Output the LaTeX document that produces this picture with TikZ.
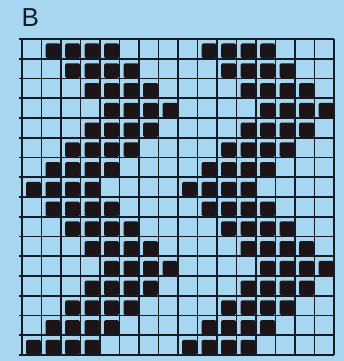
\documentclass[tikz,border=0pt]{standalone}
\usepackage{fontspec}
\setmainfont{Liberation Sans}
\definecolor{bgblue}{RGB}{166,214,240}
\definecolor{ink}{RGB}{20,26,38}
\definecolor{cellink}{RGB}{28,20,22}
\tikzset{
  gridline/.style={draw=ink, line width=1.6pt},
  cellfill/.style={fill=cellink, rounded corners=1.5pt},
}
\begin{document}
\begin{tikzpicture}[x=1pt,y=-1pt]
\fill[bgblue] (0,0) rectangle (344,361);
\useasboundingbox (0,0) rectangle (344,361);
\node[anchor=base west, inner sep=0pt, font=\fontsize{26}{26}\selectfont, text=ink] (lab) at (21.5,27) {B};
% filled cells
\foreach \o [count=\r from 0] in {1,2,3,4,3,2,1,0,1,2,3,4,3,2,1,0} {
  \foreach \k in {0,1,2,3,8,9,10,11} {
    \pgfmathsetmacro\c{\o+\k}
    \fill[cellfill] ({22+19.5*\c+4},{39+19.75*\r+4.5}) rectangle ++(15,14.75);
  }
}
% grid
\foreach \i in {0,...,16} {
  \draw[gridline] ({22+19.5*\i},39) -- ({22+19.5*\i},355);
  \draw[gridline] (19,{39+19.75*\i}) -- (334,{39+19.75*\i});
}
\end{tikzpicture}
\end{document}
